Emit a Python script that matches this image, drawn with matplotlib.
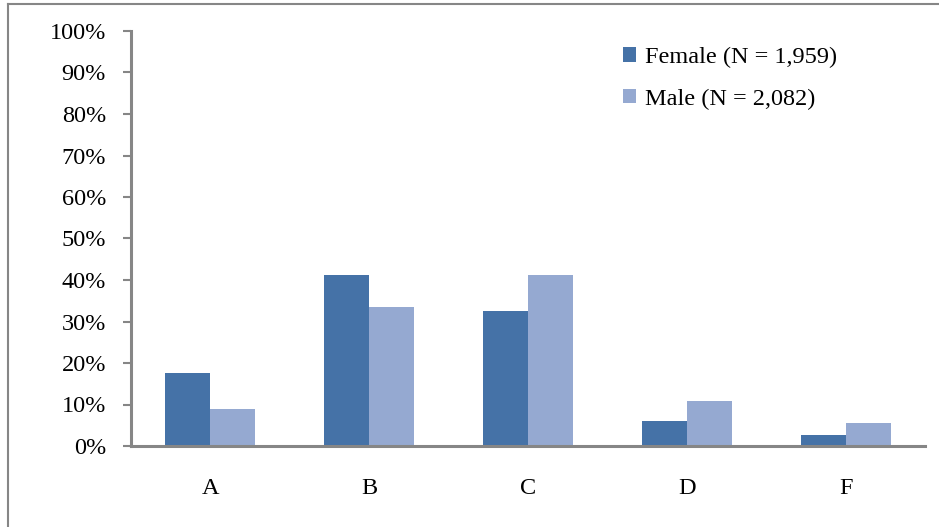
import matplotlib
matplotlib.use("Agg")
import matplotlib.pyplot as plt
import numpy as np
from matplotlib.lines import Line2D
from matplotlib.patches import Patch

categories = ["A", "B", "C", "D", "F"]
female = [17.6, 41.2, 32.5, 6.0, 2.6]
male = [8.9, 33.4, 41.2, 10.8, 5.5]
series_labels = ["Female (N = 1,959)", "Male (N = 2,082)"]
yticks = list(range(0, 101, 10))

c_f = "#4572A7"
c_m = "#95A9D1"
gray = "#868686"

plt.rcParams['font.family'] = ['Liberation Serif', 'DejaVu Serif']

W, H = 939, 527
fig = plt.figure(figsize=(W/100, H/100), dpi=100)
ax = fig.add_axes([131/W, 1-446/H, (925-131)/W, (446-31)/H])

x = np.arange(len(categories))
bw = 0.283
ax.bar(x - bw/2, female, bw, color=c_f, label=series_labels[0])
ax.bar(x + bw/2, male, bw, color=c_m, label=series_labels[1])

ax.set_xlim(-0.5, len(categories) - 0.5)
ax.set_ylim(0, 100)
ax.set_yticks(yticks)
ax.set_yticklabels([f"{t}%" for t in yticks], fontsize=17.5)
ax.set_xticks(x)
ax.set_xticklabels(categories, fontsize=17.5)
ax.tick_params(axis='x', length=0, pad=23)
ax.tick_params(axis='y', length=6, width=1.5, color=gray, pad=12)
for s in ["top", "right"]:
    ax.spines[s].set_visible(False)
for s in ["left", "bottom"]:
    ax.spines[s].set_color(gray)
    ax.spines[s].set_linewidth(2.2)

handles = [Patch(facecolor=c_f), Patch(facecolor=c_m)]
leg = ax.legend(handles, series_labels, loc="upper left",
                bbox_to_anchor=((601 - 131)/(925 - 131), 1.015),
                frameon=False, fontsize=17.5, handlelength=0.55, handleheight=0.55,
                handletextpad=0.35, labelspacing=0.85)

# outer border
fig.add_artist(Line2D([8/W, 8/W], [0, 1-4/H], transform=fig.transFigure, color=gray, lw=1.5))
fig.add_artist(Line2D([8/W, 1], [1-4/H, 1-4/H], transform=fig.transFigure, color=gray, lw=1.5))

fig.savefig("out.png", dpi=100)
